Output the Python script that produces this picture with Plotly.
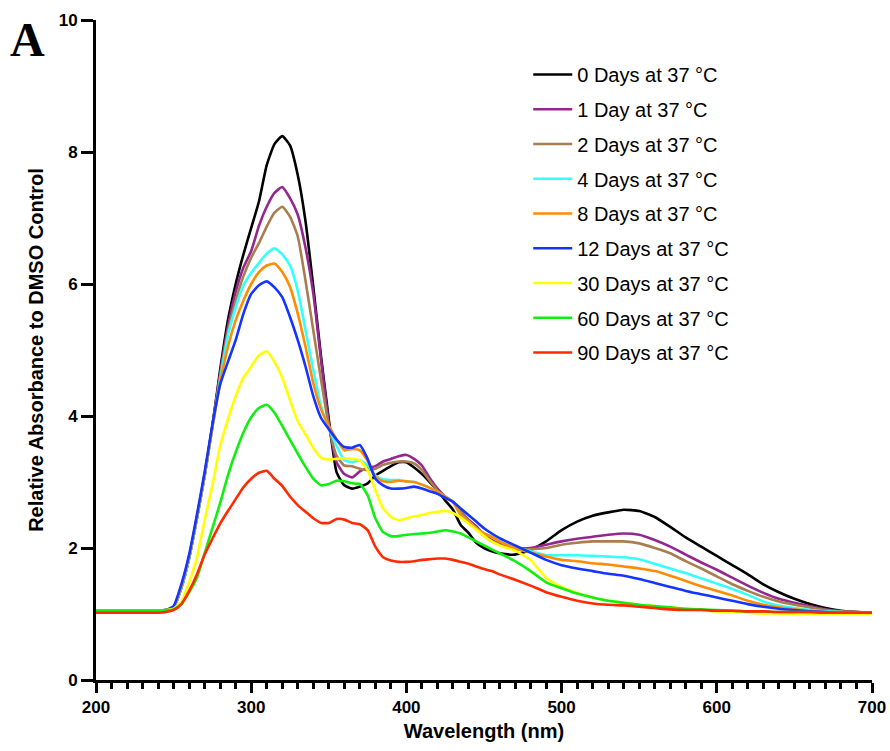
import plotly.graph_objects as go

wavelength = [200, 210, 220, 230, 240, 245, 250, 255, 260, 265, 270, 275, 280, 285, 290, 295,
              300, 305, 310, 315, 320, 325, 330, 335, 340, 345, 350, 355, 360, 365, 370, 375,
              380, 385, 390, 395, 400, 405, 410, 415, 420, 425, 430, 435, 440, 445, 450, 455,
              460, 470, 480, 490, 500, 510, 520, 530, 540, 550, 560, 570, 580, 590, 600, 610,
              620, 630, 640, 650, 660, 670, 680, 690, 700]

base = [1.05, 1.05, 1.05, 1.05, 1.05, 1.06]

day0 = base + [1.10, 1.40, 1.85, 2.45, 3.10, 3.85, 4.70, 5.45, 6.00, 6.45,
               6.85, 7.25, 7.80, 8.12, 8.24, 8.10, 7.65, 6.95, 5.96, 4.90, 3.95, 3.15, 2.95, 2.90, 2.93, 2.98,
               3.10, 3.17, 3.24, 3.30, 3.30, 3.22, 3.12, 3.00, 2.87, 2.72, 2.58, 2.35, 2.23, 2.08, 2.00, 1.95,
               1.92, 1.90, 1.97, 2.10, 2.27, 2.40, 2.49, 2.54, 2.58, 2.56, 2.47, 2.32, 2.16, 2.02, 1.88, 1.74,
               1.60, 1.45, 1.33, 1.23, 1.15, 1.09, 1.05, 1.03, 1.02]
day1 = base + [1.10, 1.40, 1.85, 2.45, 3.10, 3.85, 4.65, 5.35, 5.88, 6.25,
               6.50, 6.88, 7.17, 7.38, 7.47, 7.30, 7.05, 6.55, 5.86, 4.85, 3.90, 3.30, 3.12, 3.07, 3.16, 3.21,
               3.24, 3.31, 3.35, 3.39, 3.41, 3.35, 3.25, 3.06, 2.90, 2.78, 2.70, 2.56, 2.43, 2.33, 2.20, 2.12,
               2.06, 2.00, 2.00, 2.05, 2.10, 2.14, 2.17, 2.20, 2.22, 2.20, 2.12, 2.02, 1.90, 1.78, 1.67, 1.55,
               1.43, 1.32, 1.23, 1.17, 1.12, 1.07, 1.04, 1.03, 1.02]
day2 = base + [1.10, 1.40, 1.85, 2.45, 3.10, 3.85, 4.60, 5.28, 5.75, 6.12,
               6.40, 6.62, 6.87, 7.08, 7.17, 7.02, 6.72, 6.05, 5.30, 4.55, 3.85, 3.40, 3.25, 3.24, 3.20, 3.18,
               3.20, 3.26, 3.29, 3.31, 3.31, 3.28, 3.18, 3.02, 2.87, 2.76, 2.70, 2.55, 2.42, 2.30, 2.18, 2.10,
               2.05, 1.98, 1.98, 2.00, 2.05, 2.08, 2.10, 2.10, 2.10, 2.07, 2.00, 1.92, 1.80, 1.69, 1.57, 1.45,
               1.35, 1.26, 1.19, 1.14, 1.10, 1.06, 1.04, 1.03, 1.02]
day4 = base + [1.10, 1.40, 1.85, 2.45, 3.10, 3.82, 4.55, 5.22, 5.65, 5.98,
               6.17, 6.32, 6.46, 6.54, 6.45, 6.28, 5.90, 5.30, 4.70, 4.15, 3.82, 3.55, 3.33, 3.30, 3.33, 3.25,
               3.10, 3.04, 3.03, 3.03, 3.01, 3.00, 2.96, 2.91, 2.85, 2.78, 2.70, 2.50, 2.40, 2.30, 2.22, 2.17,
               2.10, 2.02, 1.95, 1.89, 1.89, 1.89, 1.88, 1.87, 1.86, 1.83, 1.76, 1.69, 1.62, 1.54, 1.46, 1.38,
               1.29, 1.19, 1.13, 1.09, 1.06, 1.04, 1.03, 1.02, 1.02]
day8 = base + [1.10, 1.42, 1.87, 2.47, 3.12, 3.82, 4.50, 5.05, 5.45, 5.75,
               6.00, 6.18, 6.28, 6.31, 6.18, 5.96, 5.55, 5.05, 4.50, 4.10, 3.85, 3.65, 3.48, 3.50, 3.48, 3.32,
               3.08, 3.01, 3.00, 3.02, 3.01, 3.00, 2.96, 2.91, 2.85, 2.78, 2.70, 2.50, 2.40, 2.30, 2.22, 2.17,
               2.10, 2.00, 1.93, 1.87, 1.82, 1.80, 1.77, 1.75, 1.72, 1.69, 1.65, 1.58, 1.50, 1.42, 1.35, 1.28,
               1.20, 1.14, 1.10, 1.07, 1.05, 1.03, 1.02, 1.02, 1.02]
day12 = base + [1.12, 1.45, 1.90, 2.50, 3.15, 3.87, 4.48, 4.82, 5.15, 5.55,
                5.85, 5.98, 6.04, 5.95, 5.80, 5.50, 5.15, 4.75, 4.30, 3.97, 3.80, 3.64, 3.53, 3.52, 3.56, 3.35,
                3.05, 2.95, 2.90, 2.90, 2.91, 2.93, 2.90, 2.86, 2.82, 2.76, 2.70, 2.60, 2.50, 2.40, 2.30, 2.22,
                2.15, 2.04, 1.93, 1.82, 1.74, 1.69, 1.65, 1.61, 1.58, 1.53, 1.47, 1.41, 1.35, 1.30, 1.25, 1.20,
                1.15, 1.11, 1.08, 1.06, 1.04, 1.03, 1.02, 1.02, 1.02]
day30 = base + [1.08, 1.18, 1.48, 1.85, 2.42, 2.95, 3.55, 3.95, 4.30, 4.58,
                4.75, 4.92, 4.98, 4.82, 4.58, 4.24, 3.92, 3.72, 3.52, 3.37, 3.34, 3.35, 3.36, 3.35, 3.33, 3.18,
                2.88, 2.60, 2.47, 2.42, 2.45, 2.48, 2.50, 2.53, 2.55, 2.56, 2.53, 2.46, 2.37, 2.28, 2.18, 2.10,
                2.04, 1.96, 1.82, 1.55, 1.41, 1.32, 1.25, 1.20, 1.17, 1.14, 1.12, 1.10, 1.08, 1.06, 1.04, 1.03,
                1.02, 1.01, 1.01, 1.00, 1.00, 1.00, 1.00, 1.00, 1.00]
day60 = base + [1.07, 1.15, 1.33, 1.55, 1.92, 2.30, 2.68, 3.10, 3.45, 3.75,
                3.98, 4.12, 4.17, 4.05, 3.85, 3.64, 3.43, 3.23, 3.05, 2.95, 2.97, 3.02, 3.01, 2.98, 2.97, 2.80,
                2.45, 2.24, 2.18, 2.18, 2.20, 2.21, 2.22, 2.23, 2.25, 2.27, 2.25, 2.22, 2.16, 2.10, 2.04, 1.98,
                1.92, 1.80, 1.65, 1.48, 1.39, 1.31, 1.25, 1.20, 1.17, 1.14, 1.12, 1.10, 1.08, 1.07, 1.06, 1.05,
                1.04, 1.04, 1.03, 1.03, 1.03, 1.02, 1.02, 1.02, 1.02]
day90 = [1.02, 1.02, 1.02, 1.02, 1.02, 1.03,
         1.06, 1.15, 1.35, 1.60, 1.90, 2.14, 2.37, 2.56, 2.74, 2.92,
         3.05, 3.14, 3.17, 3.05, 2.94, 2.78, 2.65, 2.55, 2.45, 2.38, 2.38, 2.44, 2.43, 2.38, 2.36, 2.27,
         2.02, 1.86, 1.81, 1.79, 1.79, 1.80, 1.82, 1.83, 1.84, 1.84, 1.82, 1.79, 1.76, 1.72, 1.68, 1.65,
         1.60, 1.52, 1.43, 1.33, 1.26, 1.20, 1.16, 1.14, 1.13, 1.11, 1.09, 1.07, 1.06, 1.06, 1.05, 1.05,
         1.04, 1.04, 1.03, 1.03, 1.03, 1.02, 1.02, 1.02, 1.02]

series_names = ["0 Days at 37 °C", "1 Day at 37 °C", "2 Days at 37 °C", "4 Days at 37 °C",
                "8 Days at 37 °C", "12 Days at 37 °C", "30 Days at 37 °C", "60 Days at 37 °C",
                "90 Days at 37 °C"]
series_values = [day0, day1, day2, day4, day8, day12, day30, day60, day90]
series_colors = ["#000000", "#93278F", "#A87D50", "#33FFFF", "#FF8C00", "#1434FF",
                 "#FFFF00", "#11EE11", "#FF2A00"]

x_ticks = [200, 300, 400, 500, 600, 700]
y_ticks = [0, 2, 4, 6, 8, 10]

fig = go.Figure()
for i, (name, vals, col) in enumerate(zip(series_names, series_values, series_colors)):
    fig.add_trace(go.Scatter(x=wavelength, y=vals, mode="lines", name=name,
                             legendgroup=f"g{i}",
                             line=dict(color=col, width=2.6, shape="spline", smoothing=0.5)))

axis_font = dict(family="Arial", size=17, color="black", weight="bold")
title_font = dict(family="Arial", size=20, color="black")
fig.update_layout(
    width=890, height=751,
    margin=dict(l=96, r=18, t=20, b=71, autoexpand=False),
    plot_bgcolor="white", paper_bgcolor="white",
    font=dict(family="Arial", color="black"),
    showlegend=True,
    legend=dict(x=0.557, y=0.947, xanchor="left", yanchor="top",
                font=dict(family="Arial", size=20, color="black"),
                bgcolor="rgba(0,0,0,0)", tracegroupgap=5.75, itemwidth=39),
    xaxis=dict(range=[200, 700], tickvals=x_ticks, ticks="outside", ticklen=10, tickwidth=3,
               tickcolor="black", showline=True, linecolor="black", linewidth=3,
               showgrid=False, zeroline=False, tickfont=axis_font, automargin=False,
               ticklabeloverflow="allow",
               minor=dict(dtick=10, ticks="outside", ticklen=6, tickwidth=2.5, tickcolor="black"),
               title=dict(text="<b>Wavelength (nm)</b>", font=title_font, standoff=8)),
    yaxis=dict(range=[0, 10], tickvals=y_ticks, ticks="outside", ticklen=12, tickwidth=3,
               tickcolor="black", showline=True, linecolor="black", linewidth=3,
               showgrid=False, zeroline=False, tickfont=axis_font, automargin=False,
               title=dict(text="<b>Relative Absorbance to DMSO Control</b>",
                          font=title_font, standoff=10)),
)
fig.add_annotation(text="<b>A</b>", xref="paper", yref="paper", x=-0.1128, y=1.013,
                   xanchor="left", yanchor="top", showarrow=False,
                   font=dict(family="Liberation Serif", size=48, color="black"))

# remove the default page margin so the 890x751 figure fills the window exactly
fig.write_html("out.html",
               config={"displayModeBar": False},
               post_script="document.body.style.margin='0';"
                           "document.documentElement.style.overflow='hidden';")
